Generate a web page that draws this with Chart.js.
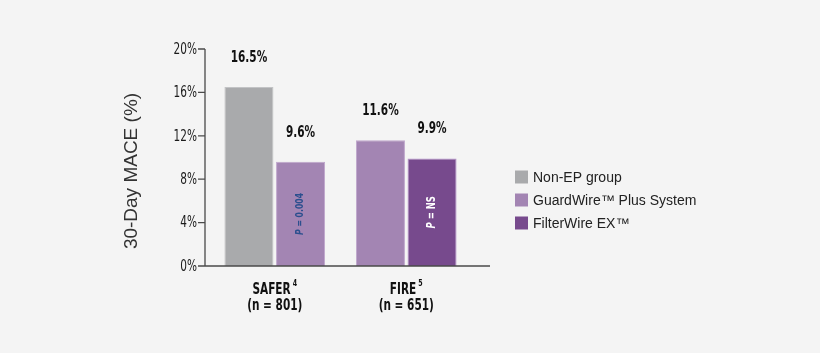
<!DOCTYPE html>
<html>
<head>
<meta charset="utf-8">
<script src="https://cdn.jsdelivr.net/npm/chart.js@4/dist/chart.umd.min.js"></script>
<style>
  html, body { margin: 0; padding: 0; background: #f4f4f4; }
  #wrap { position: relative; width: 820px; height: 353px; }
</style>
</head>
<body>
<div id="wrap"><canvas id="chart" width="820" height="353"></canvas></div>
<script>
// chart values
const categoryNames = ["SAFER", "FIRE"];
const categoryRefs = ["4", "5"];
const sampleSizes = ["(n = 801)", "(n = 651)"];
const seriesNames = ["Non-EP group", "GuardWire\u2122 Plus System", "FilterWire EX\u2122"];
const nonEpValues = [16.5, null];
const guardWireValues = [9.6, 11.6];
const filterWireValues = [null, 9.9];
const pValueLabels = ["0.004", "NS"];
const yTicks = [0, 4, 8, 12, 16, 20];

const NARROW = "'Liberation Sans Narrow', 'DejaVu Sans Condensed', sans-serif";
const SANS = "'Liberation Sans', Arial, sans-serif";
const SQUEEZE = 0.78;   //no narrow font here, so squeeze the condensed one

//draw text squeezed horizontally, centred on x
function narrowText(ctx, text, x, y, font) {
    ctx.save();
    ctx.font = font;
    ctx.translate(x, y);
    ctx.scale(SQUEEZE, 1);
    ctx.textAlign = "center";
    ctx.fillText(text, 0, 0);
    ctx.restore();
}

//draws the axis lines, value labels, p values, category labels, y title and legend
const decorPlugin = {
    id: "decor",
    afterDatasetsDraw(chart) {
        const ctx = chart.ctx;
        const area = chart.chartArea;
        const y = chart.scales.y;
        const x = chart.scales.x;
        const x0 = area.left - 4;

        ctx.save();
        //axes
        ctx.strokeStyle = "#4a4a4a";
        ctx.lineWidth = 1.3;
        ctx.beginPath();
        ctx.moveTo(x0, y.getPixelForValue(20));
        ctx.lineTo(x0, area.bottom);
        ctx.lineTo(area.right + 18, area.bottom);
        yTicks.forEach(t => {
            const py = y.getPixelForValue(t);
            ctx.moveTo(x0 - 7, py);
            ctx.lineTo(x0, py);
        });
        ctx.stroke();

        //y tick labels
        ctx.fillStyle = "#1a1a1a";
        ctx.textBaseline = "middle";
        yTicks.forEach(t => {
            const label = t + "%";
            ctx.font = "15px " + NARROW;
            const w = ctx.measureText(label).width * SQUEEZE;
            narrowText(ctx, label, x0 - 8 - w / 2, y.getPixelForValue(t) + 1, "15px " + NARROW);
        });

        //value labels above bars
        ctx.fillStyle = "#111";
        chart.data.datasets.forEach((ds, di) => {
            chart.getDatasetMeta(di).data.forEach((el, i) => {
                if (ds.data[i] == null) return;
                narrowText(ctx, ds.data[i].toFixed(1) + "%", el.x, el.y - 29, "bold 15px " + NARROW);
            });
        });

        //category labels under the axis
        categoryNames.forEach((name, i) => {
            const cx = x.getPixelForTick(i);
            ctx.font = "bold 15px " + NARROW;
            const wMain = ctx.measureText(name).width * SQUEEZE;
            ctx.font = "bold 9px " + NARROW;
            const wSup = ctx.measureText(categoryRefs[i]).width * SQUEEZE;
            const left = cx - (wMain + 2 + wSup) / 2;
            narrowText(ctx, name, left + wMain / 2, area.bottom + 24, "bold 15px " + NARROW);
            narrowText(ctx, categoryRefs[i], left + wMain + 2 + wSup / 2, area.bottom + 18, "bold 9px " + NARROW);
            narrowText(ctx, sampleSizes[i], cx, area.bottom + 40, "bold 15px " + NARROW);
        });

        //p values inside the right bar of each group
        categoryNames.forEach((c, i) => {
            let di = chart.data.datasets.length - 1;
            while (di >= 0 && chart.data.datasets[di].data[i] == null) di--;
            const el = chart.getDatasetMeta(di).data[i];
            const isNS = pValueLabels[i] === "NS";
            const size = isNS ? 12 : 11;
            ctx.save();
            ctx.translate(el.x, (el.y + el.base) / 2);
            ctx.rotate(-Math.PI / 2);
            ctx.scale(SQUEEZE, 1);
            ctx.fillStyle = isNS ? "#ffffff" : "#2c4f8e";
            const pFont = "italic bold " + size + "px " + NARROW;
            const restFont = "bold " + size + "px " + NARROW;
            const rest = " = " + pValueLabels[i];
            ctx.font = pFont;
            const wP = ctx.measureText("P").width;
            ctx.font = restFont;
            const wR = ctx.measureText(rest).width;
            const start = -(wP + wR) / 2;
            ctx.textAlign = "left";
            ctx.font = pFont;
            ctx.fillText("P", start, 0);
            ctx.font = restFont;
            ctx.fillText(rest, start + wP, 0);
            ctx.restore();
        });

        //y axis title
        ctx.save();
        ctx.translate(132, 171);
        ctx.rotate(-Math.PI / 2);
        ctx.fillStyle = "#333";
        ctx.font = "19px " + SANS;
        ctx.textAlign = "center";
        ctx.fillText("30-Day MACE (%)", 0, 0);
        ctx.restore();

        //legend
        ctx.font = "14px " + SANS;
        ctx.textAlign = "left";
        chart.data.datasets.forEach((ds, di) => {
            const cy = 177 + di * 23;
            ctx.fillStyle = ds.backgroundColor;
            ctx.fillRect(515, cy - 6.5, 13, 13);
            ctx.fillStyle = "#222";
            ctx.fillText(ds.label, 533, cy + 1);
        });
        ctx.restore();
    }
};

const colors = ["#a9aaac", "#a385b3", "#774a8d"];
const borders = ["#c2c3c5", "#bfa6cc", "#b58fc9"];
const values = [nonEpValues, guardWireValues, filterWireValues];

new Chart(document.getElementById("chart"), {
    type: "bar",
    data: {
        labels: categoryNames,
        datasets: seriesNames.map((name, i) => ({
            label: name,
            data: values[i],
            backgroundColor: colors[i],
            borderColor: borders[i],
            borderWidth: 1,
            skipNull: true,
            categoryPercentage: 0.785,
            barPercentage: 0.95
        }))
    },
    options: {
        responsive: false,
        animation: false,
        layout: { padding: { top: 49, right: 348, bottom: 0, left: 0 } },
        plugins: {
            legend: { display: false },
            tooltip: { enabled: false }
        },
        scales: {
            x: {
                grid: { display: false, drawTicks: false },
                border: { display: false },
                ticks: { display: false },
                afterFit: s => { s.height = 87; }
            },
            y: {
                min: 0,
                max: 20,
                grid: { display: false, drawTicks: false },
                border: { display: false },
                ticks: { display: false, stepSize: 4 },
                afterFit: s => { s.width = 209; }
            }
        }
    },
    plugins: [decorPlugin]
});
</script>
</body>
</html>
